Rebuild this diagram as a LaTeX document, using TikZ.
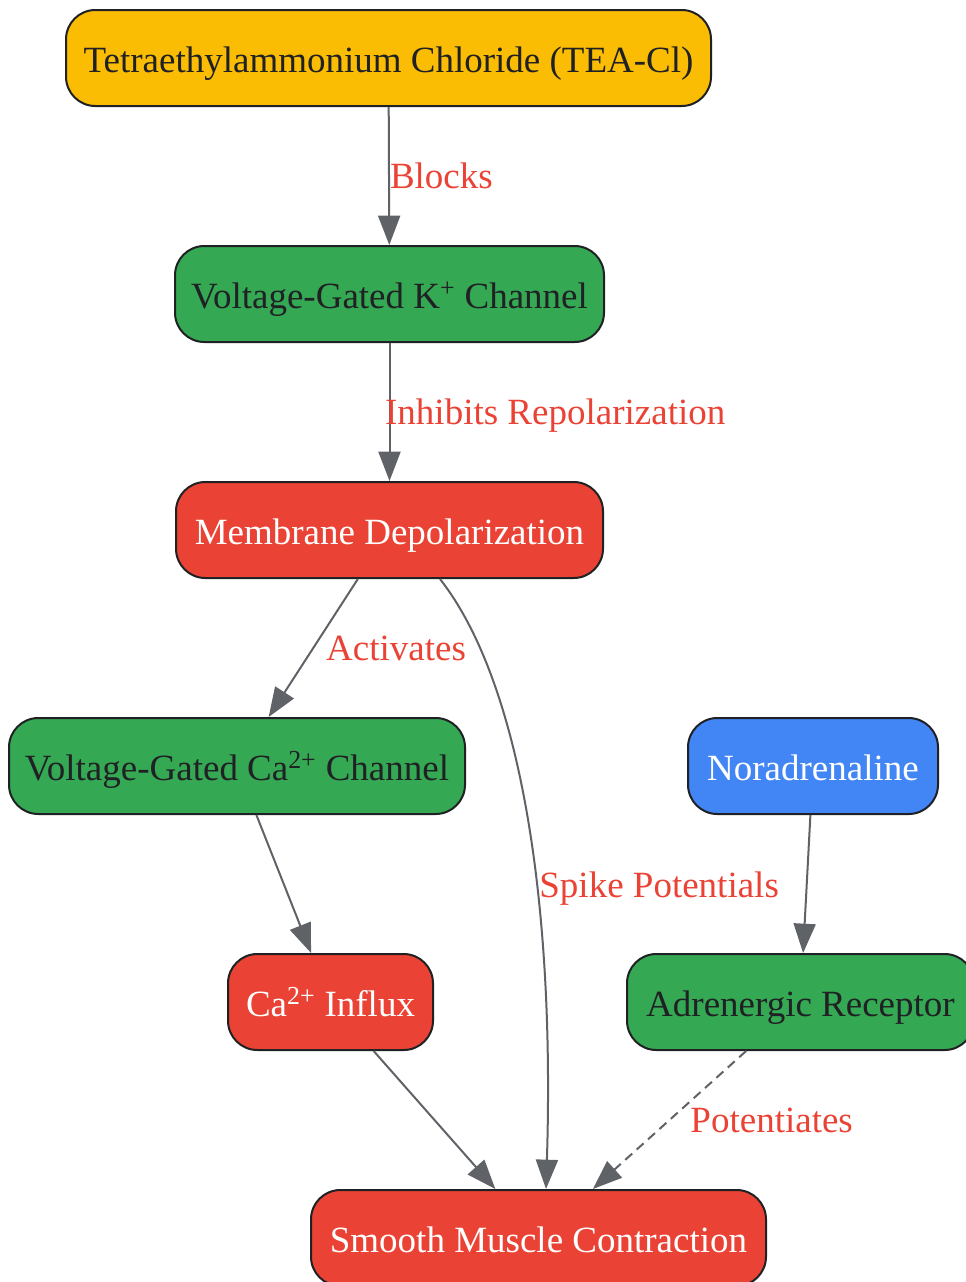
\documentclass[tikz,border=0pt]{standalone}
\usepackage{fontspec}
\setmainfont{Liberation Serif}
\usetikzlibrary{arrows.meta,calc}
\definecolor{teayellow}{HTML}{FBBC04}
\definecolor{chgreen}{HTML}{34A853}
\definecolor{effred}{HTML}{EA4335}
\definecolor{nablue}{HTML}{4285F4}
\definecolor{inkdark}{HTML}{202124}
\definecolor{edgegray}{HTML}{5F6368}
\begin{document}
\begin{tikzpicture}[x=0.75pt, y=-0.75pt,
    every node/.style={font=\fontsize{27.75pt}{33pt}\selectfont},
    box/.style={draw=inkdark, line width=1.5pt, rounded corners=22pt,
      minimum height=72pt, inner xsep=8pt, text height=27pt, text depth=5.5pt,
      text=inkdark},
    drug/.style={box, fill=teayellow},
    target/.style={box, fill=chgreen},
    effect/.style={box, fill=effred, text=white},
    agonist/.style={box, fill=nablue, text=white},
    edge/.style={draw=edgegray, line width=1.5pt,
      -{Triangle[length=22pt, width=16.5pt]}},
    lbl/.style={text=effred, inner sep=0pt, anchor=west}]
    \useasboundingbox (0, 0) rectangle (966, 1282);

    % the cascade from the blocker down
    \node[drug, minimum width=483.75pt] (tea) at (388.5, 58) {Tetraethylammonium Chloride (TEA-Cl)};
    \node[target, minimum width=321.75pt] (kch) at (389.5, 294) {Voltage-Gated K\textsuperscript{+} Channel};
    \node[effect, minimum width=320.25pt] (md) at (389.5, 530) {Membrane Depolarization};
    \node[target, minimum width=342pt] (cach) at (237, 766) {Voltage-Gated Ca\textsuperscript{2+} Channel};
    \node[agonist, minimum width=187.5pt] (na) at (813, 766) {Noradrenaline};
    \node[effect, minimum width=153.75pt] (cain) at (330.5, 1002) {Ca\textsuperscript{2+} Influx};
    \node[target, minimum width=260.25pt] (ar) at (800.5, 1002) {Adrenergic Receptor};
    \node[effect, minimum width=341.25pt] (smc) at (538.5, 1238) {Smooth Muscle Contraction};

    % connectors
    \draw[edge] (tea) -- node[lbl, midway] {Blocks} (kch);
    \draw[edge] (kch) -- node[lbl, midway, xshift=-4pt, yshift=-3pt] {Inhibits Repolarization} (md);
    \draw[edge] (md) -- node[lbl, midway, xshift=9pt] {Activates} (cach);
    \draw[edge] ($(md.south)+(50.5,0)$) .. controls +(80,102) and +(9,-288) ..
      node[lbl, pos=0.61, xshift=1.5pt, yshift=-2pt] {Spike Potentials} ($(smc.north)+(7.5,0)$);
    \draw[edge] (cach) -- (cain);
    \draw[edge] (na) -- (ar);
    \draw[edge] (cain) -- (smc);
    \draw[edge, dash pattern=on 7pt off 4.5pt] (ar) -- node[lbl, midway, xshift=15pt] {Potentiates} (smc);
\end{tikzpicture}
\end{document}
